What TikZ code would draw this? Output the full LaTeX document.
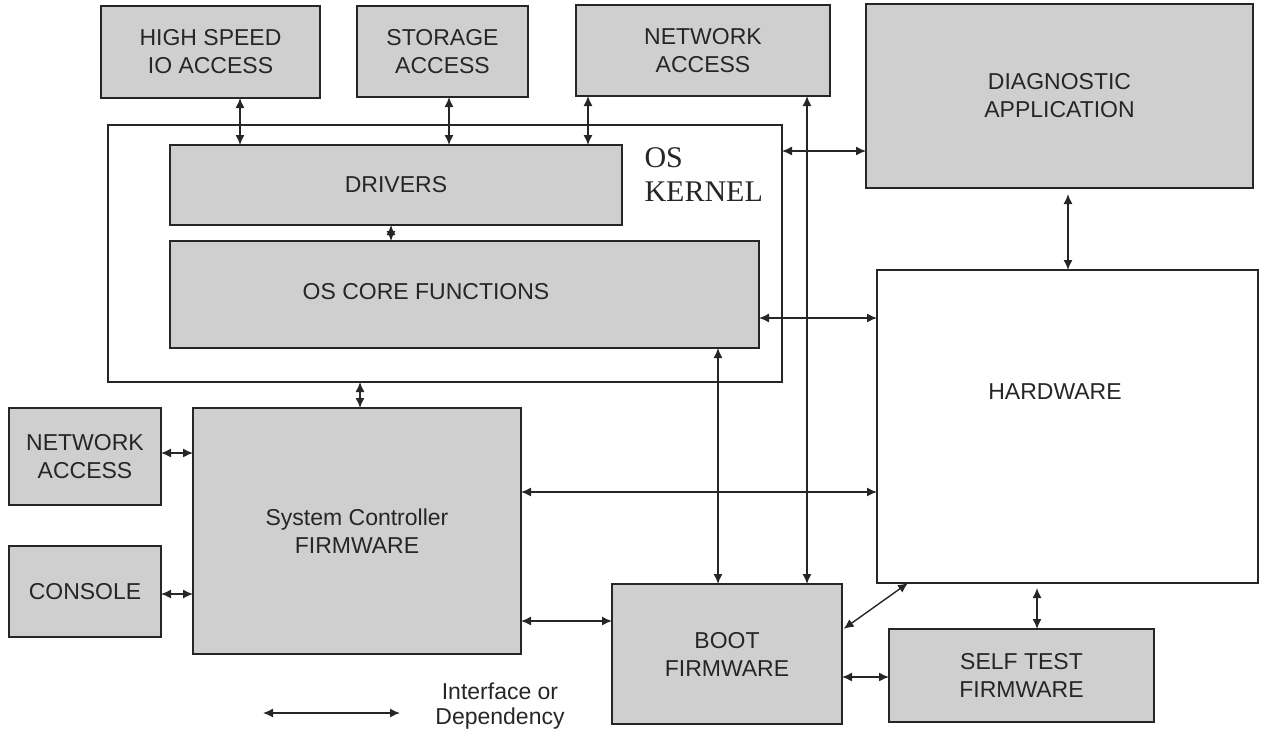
\documentclass[tikz,border=0pt]{standalone}
\usepackage{fontspec}
\setmainfont{Liberation Sans}
\newfontfamily\kernelfont{Liberation Serif}
\usetikzlibrary{arrows.meta}

\begin{document}
\begin{tikzpicture}[x=1pt,y=-1pt,
                        blk/.style={draw=black!85,line width=1.5pt,fill=black!19,inner sep=0pt,outer sep=0pt,align=center,text=black!85,font=\fontsize{23}{28}\selectfont},
                        openbox/.style={blk,fill=white},
                        link/.style={{Latex[length=10pt,width=9pt]}-{Latex[length=10pt,width=9pt]},line width=1.4pt,black!85},
                        lbl/.style={text=black!85,align=center,font=\fontsize{23}{28}\selectfont}]
                        \useasboundingbox (0,0) rectangle (1261,736);
                        \node [blk,minimum width=219pt,minimum height=92pt] (hsio) at (210.5,52) {HIGH SPEED\\IO ACCESS};
                        \node [blk,minimum width=171pt,minimum height=91pt] (storage) at (442.5,51.5) {STORAGE\\ACCESS};
                        \node [blk,minimum width=254pt,minimum height=91pt] (netacc) at (703,50.5) {NETWORK\\ACCESS};
                        \node [blk,minimum width=387pt,minimum height=184pt] (diag) at (1059.5,96) {DIAGNOSTIC\\APPLICATION};
                        \node [openbox,minimum width=674pt,minimum height=257pt] (kernel) at (445,253.5) {};
                        \node [blk,minimum width=452pt,minimum height=80pt] (drivers) at (396,185) {DRIVERS};
                        \node [blk,minimum width=589pt,minimum height=107pt] (core) at (464.5,294.5) {};
                        \node [lbl] at (426,292) {OS CORE FUNCTIONS};
                        \node [lbl,anchor=west,align=left,font=\kernelfont\fontsize{30}{34}\selectfont] at (641,175) {OS\\KERNEL};
                        \node [openbox,minimum width=381pt,minimum height=313pt] (hw) at (1067.5,426.5) {};
                        \node [lbl] at (1055,392) {HARDWARE};
                        \node [blk,minimum width=328pt,minimum height=246pt] (sysctl) at (357,531) {System Controller\\FIRMWARE};
                        \node [blk,minimum width=152pt,minimum height=97pt] (netacc2) at (85,456.5) {NETWORK\\ACCESS};
                        \node [blk,minimum width=152pt,minimum height=91pt] (console) at (85,591.5) {CONSOLE};
                        \node [blk,minimum width=230pt,minimum height=140pt] (boot) at (727,654) {BOOT\\FIRMWARE};
                        \node [blk,minimum width=265pt,minimum height=93pt] (selftest) at (1021.5,675.5) {SELF TEST\\FIRMWARE};
                        \draw [link] ([xshift=29.5pt]hsio.south) -- ([xshift=29.5pt]hsio.south |- drivers.north);
                        \draw [link] ([xshift=6.5pt]storage.south) -- ([xshift=6.5pt]storage.south |- drivers.north);
                        \draw [link] ([xshift=-115pt]netacc.south) -- ([xshift=-115pt]netacc.south |- drivers.north);
                        \draw [link] ([xshift=-5pt]drivers.south) -- ([xshift=-5pt]drivers.south |- core.north);
                        \draw [link] ([xshift=104pt]netacc.south) -- ([xshift=104pt]netacc.south |- boot.north);
                        \draw [link] ([yshift=102.5pt]kernel.east) -- ([yshift=102.5pt]kernel.east -| diag.west);
                        \draw [link,shorten <=6pt] ([xshift=8.5pt]diag.south) -- ([xshift=8.5pt]diag.south |- hw.north);
                        \draw [link] ([yshift=-23.5pt]core.east) -- ([yshift=-23.5pt]core.east -| hw.west);
                        \draw [link] ([xshift=253.5pt]core.south) -- ([xshift=253.5pt]core.south |- boot.north);
                        \draw [link] ([xshift=-85pt]kernel.south) -- ([xshift=-85pt]kernel.south |- sysctl.north);
                        \draw [link] ([yshift=3.5pt]netacc2.east) -- ([yshift=3.5pt]netacc2.east -| sysctl.west);
                        \draw [link] ([yshift=-2.5pt]console.east) -- ([yshift=-2.5pt]console.east -| sysctl.west);
                        \draw [link] ([yshift=39pt]sysctl.east) -- ([yshift=39pt]sysctl.east -| hw.west);
                        \draw [link] ([yshift=-90pt]sysctl.east) -- ([yshift=-90pt]sysctl.east -| boot.west);
                        \draw [link,shorten <=2pt] ([yshift=24pt]boot.east) -- ([xshift=-159.5pt]hw.south);
                        \draw [link,shorten <=5pt] ([xshift=-30.5pt]hw.south) -- ([xshift=-30.5pt]hw.south |- selftest.north);
                        \draw [link] ([yshift=-23pt]boot.east) -- ([yshift=-23pt]boot.east -| selftest.west);
                        \coordinate (legl) at (263,713);
                        \coordinate (legr) at (400,713);
                        \draw [link] (legl) -- (legr);
                        \node [lbl,font=\fontsize{23}{25}\selectfont] (legtext) at (500,706) {Interface or\\Dependency};
                    \end{tikzpicture}
\end{document}
